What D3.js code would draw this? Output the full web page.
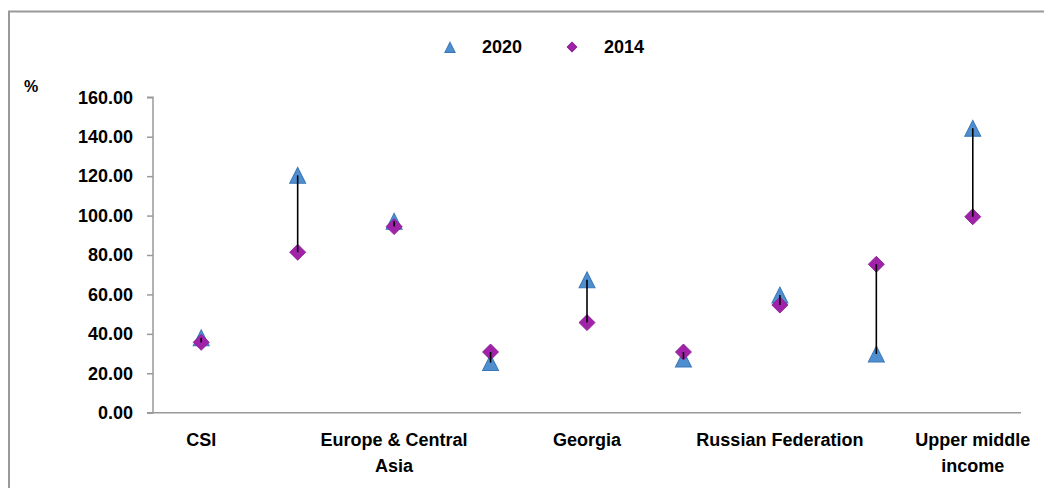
<!DOCTYPE html>
<html>
<head>
<meta charset="utf-8">
<script src="https://cdn.jsdelivr.net/npm/d3@7"></script>
<style>
  body { margin: 0; background: #fff; }
  svg { font-family: "Liberation Sans", Arial, sans-serif; }
</style>
</head>
<body>
<div id="chart"></div>
<script>
// categories (every other label is empty in the original chart)
const categories = ["CSI", "", "Europe & Central Asia", "", "Georgia", "", "Russian Federation", "", "Upper middle income"];
const values2020 = [38.0, 120.4, 97.1, 25.4, 67.4, 27.2, 59.7, 29.8, 144.3];
const values2014 = [35.7, 81.4, 94.4, 30.8, 45.7, 30.8, 54.6, 75.3, 99.4];
const yTicks = [0, 20, 40, 60, 80, 100, 120, 140, 160];
const seriesNames = ["2020", "2014"];

const width = 1044;
const height = 488;
const blue = "#4f8fd0", blueStroke = "#3a78b8";
const purple = "#a022a8", purpleStroke = "#8a1a92";

const svg = d3.select("#chart").append("svg")
  .attr("width", width)
  .attr("height", height);

// outer frame
svg.append("path")
  .attr("d", "M9,488V11.5H1044")
  .attr("fill", "none")
  .attr("stroke", "#999")
  .attr("stroke-width", 2);

const x = d3.scaleBand()
  .domain(d3.range(categories.length))
  .range([153, 1021]);

const y = d3.scaleLinear()
  .domain([0, 160])
  .range([412.7, 97.3]);

// y axis
const yAxis = svg.append("g")
  .attr("transform", "translate(153,0)")
  .call(d3.axisLeft(y).tickValues(yTicks).tickSize(6).tickPadding(14).tickFormat(d3.format(".2f")));
yAxis.selectAll("path, line").attr("stroke", "#999").attr("stroke-width", 1.5);
yAxis.select(".domain").attr("d", "M-6,97.3H0V412.7H-6");
yAxis.selectAll("text")
  .attr("font-size", 18).attr("font-weight", "bold").attr("fill", "#000")
  .attr("font-family", "Liberation Sans, Arial, sans-serif");

// x axis line
svg.append("line")
  .attr("x1", 147).attr("x2", 1021)
  .attr("y1", y(0)).attr("y2", y(0))
  .attr("stroke", "#999").attr("stroke-width", 1.5);

// category labels, wrapped
const labels = svg.append("g")
  .selectAll("text")
  .data(categories)
  .join("text")
  .attr("x", (d, i) => x(i) + x.bandwidth() / 2)
  .attr("y", 446)
  .attr("text-anchor", "middle")
  .attr("font-size", 18)
  .attr("font-weight", "bold")
  .attr("fill", "#000")
  .text(d => d);

labels.each(function(d) {
  if (!d) return;
  const t = d3.select(this);
  const words = d.split(" ");
  t.text(null);
  const lx = t.attr("x");
  let line = [];
  let tspan = t.append("tspan").attr("x", lx).attr("dy", 0);
  words.forEach(w => {
    line.push(w);
    tspan.text(line.join(" "));
    if (tspan.node().getComputedTextLength() > 178 && line.length > 1) {
      line.pop();
      tspan.text(line.join(" "));
      line = [w];
      tspan = t.append("tspan").attr("x", lx).attr("dy", 26).text(w);
    }
  });
});

// % label
svg.append("text")
  .attr("x", 24).attr("y", 92)
  .attr("font-size", 16).attr("font-weight", "bold")
  .text("%");

const cx = i => x(i) + x.bandwidth() / 2;
const triangle = d3.symbol().type(d3.symbolTriangle).size(120);
const diamond = d3.symbol().type(d3.symbolSquare).size(128);

// markers 2020
svg.append("g").selectAll("path")
  .data(values2020)
  .join("path")
  .attr("d", triangle)
  .attr("transform", (d, i) => `translate(${cx(i)},${y(d) + 2.6}) scale(0.96,1.1)`)
  .attr("fill", blue)
  .attr("stroke", blueStroke)
  .attr("stroke-width", 1);

// markers 2014
svg.append("g").selectAll("path")
  .data(values2014)
  .join("path")
  .attr("d", diamond)
  .attr("transform", (d, i) => `translate(${cx(i)},${y(d)}) rotate(45)`)
  .attr("fill", purple)
  .attr("stroke", purpleStroke)
  .attr("stroke-width", 0.8);

// high-low lines
svg.append("g").selectAll("line")
  .data(values2020)
  .join("line")
  .attr("x1", (d, i) => cx(i)).attr("x2", (d, i) => cx(i))
  .attr("y1", d => y(d)).attr("y2", (d, i) => y(values2014[i]))
  .attr("stroke", "#000")
  .attr("stroke-width", 1.6);

// legend
const legend = svg.append("g");
legend.append("path")
  .attr("d", d3.symbol().type(d3.symbolTriangle).size(50))
  .attr("transform", "translate(450,49) scale(0.95,1.1)")
  .attr("fill", blue).attr("stroke", blueStroke);
legend.append("text")
  .attr("x", 482).attr("y", 53)
  .attr("font-size", 18).attr("font-weight", "bold")
  .text(seriesNames[0]);
legend.append("path")
  .attr("d", d3.symbol().type(d3.symbolSquare).size(45))
  .attr("transform", "translate(572,47) rotate(45)")
  .attr("fill", purple).attr("stroke", purpleStroke);
legend.append("text")
  .attr("x", 604).attr("y", 53)
  .attr("font-size", 18).attr("font-weight", "bold")
  .text(seriesNames[1]);
</script>
</body>
</html>
